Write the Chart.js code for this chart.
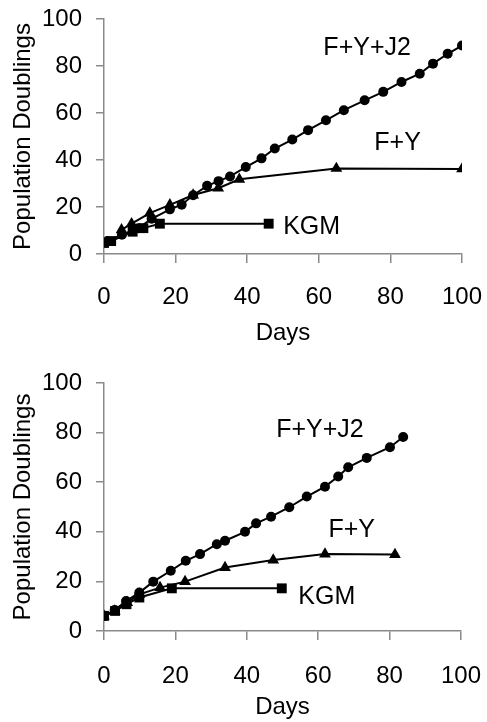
<!DOCTYPE html>
<html>
<head>
<meta charset="utf-8">
<script src="https://cdn.jsdelivr.net/npm/chart.js@4.4.1/dist/chart.umd.min.js"></script>
<style>
  body { margin: 0; background: #fff; }
  .box { position: absolute; left: 0; width: 487px; height: 361px; }
  #top { top: 0; }
  #bottom { top: 361px; }
</style>
</head>
<body>
<div class="box" id="top"><canvas id="chartTop"></canvas></div>
<div class="box" id="bottom"><canvas id="chartBottom"></canvas></div>
<script>
// top panel
const topJ2Days = [1, 5, 9.6, 13.3, 18.4, 21.7, 24.9, 28.8, 32, 35.2, 39.6, 44, 47.7, 52.6, 57, 62, 67, 72.8, 78, 83.1, 88.2, 91.9, 96, 100]
const topJ2Vals = [5.5, 8.2, 11, 15, 19, 21, 25, 29, 31, 33, 37, 40.7, 44.9, 48.7, 52.7, 56.9, 61.2, 65.4, 69, 73.2, 76.7, 81, 85.2, 88.7]
const topFYDays = [4.9, 7.7, 12.8, 18.4, 24.9, 31.9, 37.8, 64.9, 100]
const topFYVals = [10.3, 12.9, 17.4, 20.9, 25.1, 28, 31.8, 36.4, 36.2]
const topKGMDays = [0, 2, 8, 11, 15.6, 46]
const topKGMVals = [4.7, 5.5, 9.5, 11, 12.9, 12.9]

// bottom panel
const botJ2Days = [0, 3, 6.2, 9.9, 13.8, 18.7, 22.9, 26.9, 31.6, 33.9, 39.5, 42.6, 46.8, 51.9, 56.8, 61.9, 65.6, 68.4, 73.6, 80.1, 83.8]
const botJ2Vals = [6, 8.5, 12.1, 15.5, 19.9, 24.3, 28.3, 31, 35, 36.4, 40, 43.4, 46.1, 49.9, 54.2, 58.2, 62.3, 66, 69.8, 74.1, 78.2]
const botFYDays = [0, 3, 6.5, 9.9, 15.7, 22.7, 33.9, 47.4, 61.9, 81.5]
const botFYVals = [6, 8, 11.5, 14.8, 17.5, 19.9, 25.6, 28.6, 31, 30.8]
const botKGMDays = [0, 3.1, 6.3, 9.9, 19, 49.8]
const botKGMVals = [6.1, 8.1, 10.8, 13.5, 17.2, 17.2]

const seriesNames = ['F+Y+J2', 'F+Y', 'KGM']
const xTicks = [0, 20, 40, 60, 80, 100]
const yTicks = [0, 20, 40, 60, 80, 100]

// where the series names sit, in data units
const topLabelPos = [[73.5, 87.7], [82, 47], [58, 11.4]]
const botLabelPos = [[60.5, 81], [69.4, 40.7], [62.4, 13.8]]

const axisGrey = '#8a8a8a'
const font = 'Liberation Sans, Arial, sans-serif'

function pts(days, vals) {
  return days.map((d, i) => ({ x: d, y: vals[i] }))
}

function ds(data, style, r) {
  return {
    data: data,
    borderColor: '#000',
    backgroundColor: '#000',
    borderWidth: 2,
    pointStyle: style,
    pointRadius: r,
    pointBorderWidth: 0,
    tension: 0,
    showLine: true
  }
}

const seriesLabels = {
  id: 'seriesLabels',
  afterDatasetsDraw(chart, args, opts) {
    const ctx = chart.ctx
    const x = chart.scales.x
    const y = chart.scales.y
    ctx.save()
    ctx.fillStyle = '#000'
    ctx.font = '25px ' + font
    ctx.textAlign = 'center'
    ctx.textBaseline = 'middle'
    opts.pos.forEach((p, i) => {
      ctx.fillText(seriesNames[i], x.getPixelForValue(p[0]), y.getPixelForValue(p[1]))
    })
    ctx.restore()
  }
}

function makeChart(id, sets, labelPos, pad, xHeight, tickPad, titleBottom) {
  return new Chart(document.getElementById(id), {
    type: 'scatter',
    data: { datasets: sets },
    plugins: [seriesLabels],
    options: {
      responsive: true,
      maintainAspectRatio: false,
      animation: false,
      layout: { padding: pad },
      plugins: {
        legend: { display: false },
        tooltip: { enabled: false },
        seriesLabels: { pos: labelPos }
      },
      scales: {
        x: {
          type: 'linear',
          min: 0, max: 100,
          afterBuildTicks: s => { s.ticks = xTicks.map(v => ({ value: v })) },
          afterFit: s => { s.height = xHeight; s.paddingLeft = 0; s.paddingRight = 0 },
          grid: { drawOnChartArea: false, drawTicks: true, tickLength: 9, color: axisGrey, lineWidth: 1.5 },
          border: { color: axisGrey, width: 1.5 },
          ticks: { color: '#000', font: { family: font, size: 24 }, padding: tickPad, maxRotation: 0 },
          title: { display: true, text: 'Days', color: '#000', font: { family: font, size: 24 }, padding: { top: 2, bottom: titleBottom } }
        },
        y: {
          type: 'linear',
          min: 0, max: 100,
          afterBuildTicks: s => { s.ticks = yTicks.map(v => ({ value: v })) },
          afterFit: s => { s.width = 104; s.paddingTop = 0; s.paddingBottom = 0 },
          grid: { drawOnChartArea: false, drawTicks: true, tickLength: 8, color: axisGrey, lineWidth: 1.5 },
          border: { color: axisGrey, width: 1.5 },
          ticks: { color: '#000', font: { family: font, size: 24 }, padding: 14 },
          title: { display: true, text: 'Population Doublings', color: '#000', font: { family: font, size: 24 }, padding: { top: 9, bottom: 0 } }
        }
      }
    }
  })
}

makeChart('chartTop', [
  ds(pts(topJ2Days, topJ2Vals), 'circle', 5),
  ds(pts(topFYDays, topFYVals), 'triangle', 6.8),
  ds(pts(topKGMDays, topKGMVals), 'rect', 7)
], topLabelPos, { top: 19, right: 25, bottom: 0, left: 0 }, 107, 20, 13)

makeChart('chartBottom', [
  ds(pts(botJ2Days, botJ2Vals), 'circle', 5),
  ds(pts(botFYDays, botFYVals), 'triangle', 6.8),
  ds(pts(botKGMDays, botKGMVals), 'rect', 7)
], botLabelPos, { top: 22, right: 26, bottom: 0, left: 0 }, 91, 22, 0)
</script>
</body>
</html>
